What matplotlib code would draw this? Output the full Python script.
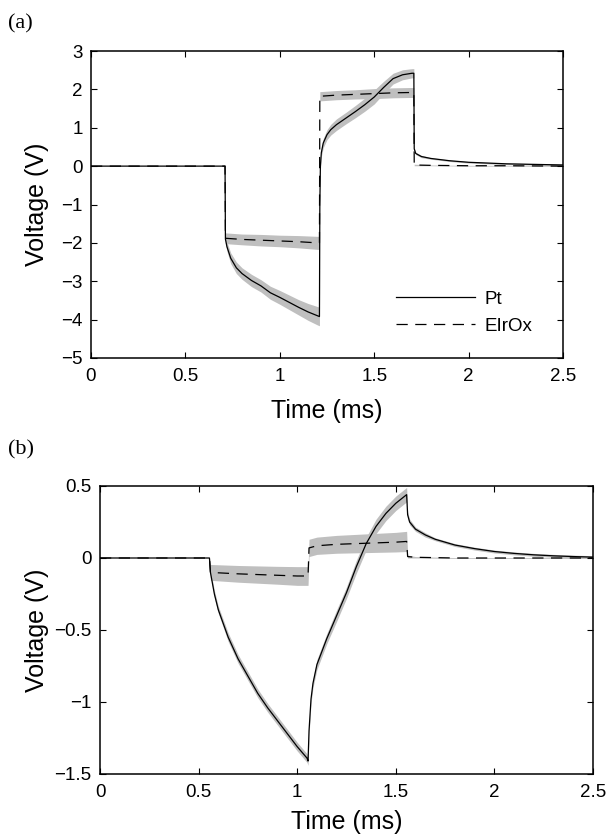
import matplotlib
matplotlib.use('Agg')
import matplotlib.pyplot as plt
import numpy as np

# ---- panel (a) ----
a_pt_t = [0, 0.71, 0.712, 0.72, 0.74, 0.77, 0.8, 0.85, 0.9, 0.95, 1.0, 1.05, 1.1, 1.15, 1.2, 1.21,
          1.212, 1.215, 1.22, 1.23, 1.25, 1.27, 1.3, 1.35, 1.4, 1.45, 1.5, 1.55, 1.6, 1.65, 1.7, 1.71,
          1.712, 1.72, 1.75, 1.8, 1.9, 2.0, 2.1, 2.2, 2.3, 2.4, 2.5]
a_pt_v = [0, 0, -1.9, -2.1, -2.4, -2.65, -2.8, -2.98, -3.12, -3.3, -3.42, -3.55, -3.68, -3.8, -3.9, -3.92,
          -1.0, 0.0, 0.35, 0.6, 0.82, 0.95, 1.08, 1.25, 1.42, 1.6, 1.8, 2.05, 2.28, 2.38, 2.42, 2.42,
          0.45, 0.33, 0.25, 0.2, 0.14, 0.1, 0.08, 0.06, 0.05, 0.04, 0.03]
a_pt_sd = [0, 0, 0.1, 0.12, 0.14, 0.15, 0.15, 0.16, 0.16, 0.17, 0.18, 0.19, 0.2, 0.22, 0.24, 0.24,
           0.1, 0.1, 0.1, 0.12, 0.13, 0.14, 0.15, 0.15, 0.16, 0.17, 0.18, 0.16, 0.14, 0.13, 0.12, 0.12,
           0.03, 0.03, 0.03, 0.02, 0.02, 0.02, 0.02, 0.02, 0.02, 0.02, 0.02]

a_ir_t = [0, 0.71, 0.712, 0.8, 0.9, 1.0, 1.1, 1.2, 1.21, 1.212, 1.3, 1.4, 1.5, 1.6, 1.71,
          1.712, 1.8, 2.0, 2.2, 2.5]
a_ir_v = [0, 0, -1.88, -1.91, -1.93, -1.95, -1.97, -2.0, -2.0, 1.82, 1.85, 1.87, 1.89, 1.91, 1.92,
          0.03, 0.02, 0.01, 0.01, 0.0]
a_ir_sd = [0, 0, 0.14, 0.14, 0.15, 0.15, 0.16, 0.17, 0.17, 0.12, 0.12, 0.12, 0.13, 0.13, 0.13,
           0.02, 0.01, 0.01, 0.01, 0.01]

# ---- panel (b) ----
b_pt_t = [0, 0.555, 0.56, 0.58, 0.6, 0.65, 0.7, 0.75, 0.8, 0.85, 0.9, 0.95, 1.0, 1.05, 1.055,
          1.06, 1.07, 1.08, 1.1, 1.15, 1.2, 1.25, 1.3, 1.35, 1.4, 1.45, 1.5, 1.555,
          1.56, 1.57, 1.6, 1.65, 1.7, 1.8, 1.9, 2.0, 2.1, 2.2, 2.3, 2.4, 2.5]
b_pt_v = [0, 0, -0.1, -0.25, -0.36, -0.55, -0.70, -0.82, -0.94, -1.04, -1.13, -1.22, -1.31, -1.39, -1.41,
          -1.2, -0.98, -0.87, -0.74, -0.56, -0.40, -0.24, -0.06, 0.1, 0.22, 0.31, 0.38, 0.44,
          0.3, 0.25, 0.2, 0.16, 0.13, 0.09, 0.065, 0.045, 0.032, 0.022, 0.015, 0.01, 0.006]
b_pt_sd = [0, 0, 0.02, 0.025, 0.025, 0.03, 0.03, 0.03, 0.03, 0.03, 0.03, 0.03, 0.03, 0.03, 0.03,
           0.03, 0.03, 0.03, 0.035, 0.035, 0.04, 0.04, 0.045, 0.045, 0.05, 0.05, 0.05, 0.05,
           0.02, 0.02, 0.015, 0.015, 0.01, 0.01, 0.01, 0.01, 0.01, 0.01, 0.01, 0.01, 0.01]

b_ir_t = [0, 0.555, 0.56, 0.7, 0.8, 0.9, 1.0, 1.055, 1.06, 1.1, 1.2, 1.3, 1.4, 1.5, 1.555,
          1.56, 1.6, 1.8, 2.0, 2.5]
b_ir_v = [0, 0, -0.10, -0.11, -0.115, -0.12, -0.125, -0.125, 0.07, 0.085, 0.095, 0.1, 0.105, 0.11, 0.115,
          0.01, 0.005, 0.0, 0.0, 0.0]
b_ir_sd = [0, 0, 0.055, 0.058, 0.06, 0.062, 0.065, 0.065, 0.06, 0.06, 0.062, 0.064, 0.066, 0.068, 0.07,
           0.01, 0.005, 0.003, 0.003, 0.003]

GRAY = '#bfbfbf'
SANS = 'Liberation Sans'
TICK_FS = 13.5
LABEL_FS = 18

plt.rcParams['font.family'] = SANS
plt.rcParams['axes.linewidth'] = 1.1


def draw_panel(ax, pt, ir, ylim, yticks, yticklabels):
    for t, v, sd in (pt, ir):
        t, v, sd = np.array(t), np.array(v), np.array(sd)
        ax.fill_between(t, v - sd, v + sd, color=GRAY, lw=0, zorder=1)
    ax.plot(pt[0], pt[1], color='black', lw=0.9, label='Pt', zorder=3)
    ax.plot(ir[0], ir[1], color='black', lw=0.9, dashes=[9, 6], label='EIrOx', zorder=3)
    ax.set_xlim(0, 2.5)
    ax.set_ylim(*ylim)
    ax.set_xticks([0, 0.5, 1, 1.5, 2, 2.5])
    ax.set_xticklabels(['0', '0.5', '1', '1.5', '2', '2.5'])
    ax.set_yticks(yticks)
    ax.set_yticklabels(yticklabels)
    ax.tick_params(direction='in', top=True, right=True, length=4, width=0.8,
                   labelsize=TICK_FS)
    ax.tick_params(axis='x', pad=7)
    ax.tick_params(axis='y', pad=6)
    ax.set_xlabel('Time (ms)', fontsize=LABEL_FS)
    ax.set_ylabel('Voltage (V)', fontsize=LABEL_FS)


fig = plt.figure(figsize=(6.15, 8.35), dpi=100)

ax1 = fig.add_axes([91 / 615, 1 - 358 / 835, 472 / 615, 307 / 835])
draw_panel(ax1, (a_pt_t, a_pt_v, a_pt_sd), (a_ir_t, a_ir_v, a_ir_sd), (-5, 3),
           list(range(-5, 4)), ['\u22125', '\u22124', '\u22123', '\u22122', '\u22121', '0', '1', '2', '3'])
ax1.xaxis.set_label_coords(0.5, -0.135)
ax1.yaxis.set_label_coords(-0.09, 0.5)
leg = ax1.legend(loc='lower right', bbox_to_anchor=(0.97, 0.02), frameon=False,
                 fontsize=TICK_FS, handlelength=4.2, labelspacing=0.55, handletextpad=0.5)

ax2 = fig.add_axes([100 / 615, 1 - 774 / 835, 493 / 615, 288 / 835])
draw_panel(ax2, (b_pt_t, b_pt_v, b_pt_sd), (b_ir_t, b_ir_v, b_ir_sd), (-1.5, 0.5),
           [-1.5, -1, -0.5, 0, 0.5], ['\u22121.5', '\u22121', '\u22120.5', '0', '0.5'])
ax2.xaxis.set_label_coords(0.5, -0.125)
ax2.yaxis.set_label_coords(-0.103, 0.5)

fig.text(8 / 615, 1 - 24 / 835, '(a)', family='Liberation Serif', fontsize=16, va='center', ha='left')
fig.text(8 / 615, 1 - 450 / 835, '(b)', family='Liberation Serif', fontsize=16, va='center', ha='left')

fig.savefig('out.png', dpi=100)
